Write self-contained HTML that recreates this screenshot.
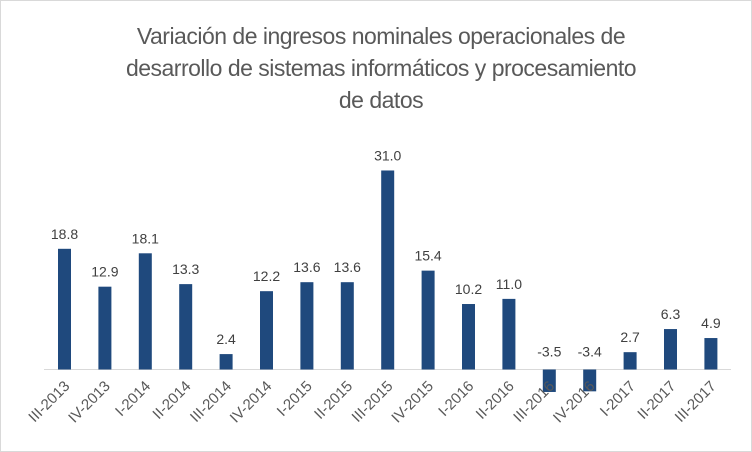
<!DOCTYPE html>
<html><head><meta charset="utf-8"><style>
body{margin:0;background:#fff}
.c{position:relative;width:750px;height:450px;border:1px solid #d9d9d9;font-family:"Liberation Sans",sans-serif;overflow:hidden}
.t{position:absolute;left:0;width:760px;top:19px;text-align:center;font-size:23px;line-height:32px;color:#595959;letter-spacing:-0.5px}
</style></head><body><div class="c">
<div class="t">Variación de ingresos nominales operacionales de<br>desarrollo de sistemas informáticos y procesamiento<br>de datos</div>
<svg width="750" height="450" style="position:absolute;left:0;top:0" font-family="Liberation Sans, sans-serif">
<line x1="43" y1="368.5" x2="730" y2="368.5" stroke="#d9d9d9" stroke-width="1"/>
<g id="b"></g>
</svg>
<script>
var v=[18.8,12.9,18.1,13.3,2.4,12.2,13.6,13.6,31.0,15.4,10.2,11.0,-3.5,-3.4,2.7,6.3,4.9];
var l=["III-2013","IV-2013","I-2014","II-2014","III-2014","IV-2014","I-2015","II-2015","III-2015","IV-2015","I-2016","II-2016","III-2016","IV-2016","I-2017","II-2017","III-2017"];
var s="",k=6.42,b=368.5;
for(var i=0;i<17;i++){var cx=63.5+i*40.4,h=v[i]*k,y=v[i]>=0?b-h:b;
s+='<rect x="'+(cx-6.5)+'" y="'+y+'" width="13" height="'+Math.abs(h)+'" fill="#1f497d"/>';
var ly=v[i]>=0?b-h-10:b-13;
s+='<text x="'+cx+'" y="'+ly+'" text-anchor="middle" font-size="14" fill="#404040">'+v[i].toFixed(1)+'</text>';
s+='<text transform="translate('+(cx+6)+',386) rotate(-45)" text-anchor="end" font-size="15" fill="#595959">'+l[i]+'</text>';}
document.getElementById("b").innerHTML=s;
</script>
</div></body></html>
